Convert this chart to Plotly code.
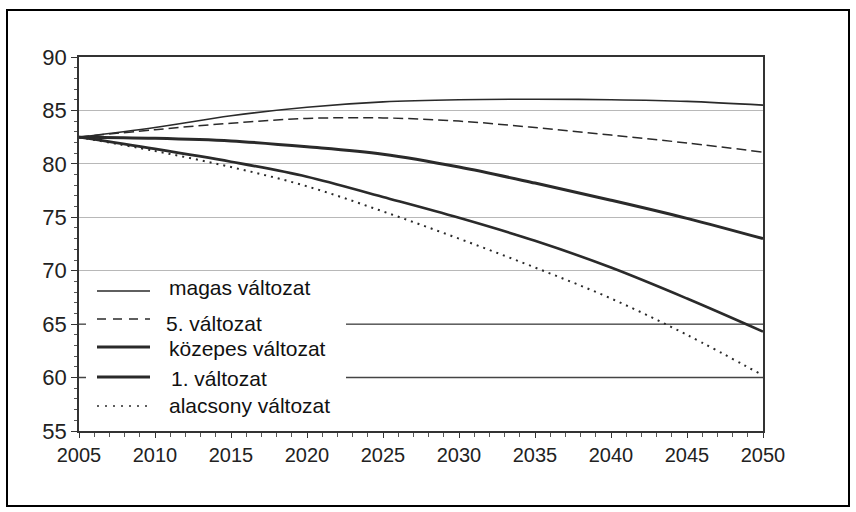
import plotly.graph_objects as go

years = [2005, 2010, 2015, 2020, 2025, 2030, 2035, 2040, 2045, 2050]
magas = [82.5, 83.4, 84.5, 85.3, 85.8, 86.0, 86.05, 86.0, 85.85, 85.5]
valt5 = [82.5, 83.2, 83.8, 84.25, 84.3, 84.0, 83.4, 82.7, 81.95, 81.1]
kozepes = [82.5, 82.4, 82.15, 81.6, 80.9, 79.7, 78.2, 76.6, 74.9, 73.0]
valt1 = [82.5, 81.4, 80.2, 78.8, 76.9, 74.95, 72.8, 70.3, 67.4, 64.3]
alacsony = [82.5, 81.2, 79.7, 77.9, 75.55, 73.0, 70.3, 67.4, 64.0, 60.2]

names = ["magas változat", "5. változat", "közepes változat", "1. változat", "alacsony változat"]
xticks = [2005, 2010, 2015, 2020, 2025, 2030, 2035, 2040, 2045, 2050]
yticks = [55, 60, 65, 70, 75, 80, 85, 90]

W, H = 856, 512
L, R, T, B = 79, 93, 57, 81
PW, PH = W - L - R, H - T - B


def px(x):
    return (x - L) / PW


def py(y):
    return (H - B - y) / PH


INK = "#2a2a2a"
FONT = "Liberation Sans, Arial, sans-serif"

styles = [
    dict(width=1.6, dash="solid"),
    dict(width=1.5, dash="10px,5px"),
    dict(width=3.0, dash="solid"),
    dict(width=2.6, dash="solid"),
    dict(width=2.0, dash="2px,5px"),
]
series = [magas, valt5, kozepes, valt1, alacsony]

fig = go.Figure()
for name, vals, st in zip(names, series, styles):
    fig.add_trace(go.Scatter(
        x=years, y=vals, mode="lines", name=name, showlegend=False,
        line=dict(color=INK, width=st["width"], dash=st["dash"], shape="spline", smoothing=1.0),
    ))

shapes = []
# darker partial gridlines at 65 and 60
for yv in (65, 60):
    shapes.append(dict(type="line", xref="x", yref="y", x0=2005, x1=2050, y0=yv, y1=yv,
                       line=dict(color="#444", width=1.4), layer="between"))
# white legend box
shapes.append(dict(type="rect", xref="paper", yref="paper",
                   x0=px(86), x1=px(346), y0=py(426), y1=py(277),
                   fillcolor="white", line=dict(width=0), layer="above"))
# legend samples
leg_line_y = [291, 319, 347, 377, 406]
leg_text = [(167, 287), (164, 323), (167, 348), (169, 378), (167, 405)]
leg_dash = ["solid", "9px,7px", "solid", "solid", "2px,6px"]
leg_w = [1.6, 1.3, 3.2, 3.2, 1.6]
for ly, d, w in zip(leg_line_y, leg_dash, leg_w):
    shapes.append(dict(type="line", xref="paper", yref="paper",
                       x0=px(97), x1=px(150), y0=py(ly), y1=py(ly),
                       line=dict(color=INK, width=w, dash=d), layer="above"))
# outer frame
shapes.append(dict(type="rect", xref="paper", yref="paper",
                   x0=px(7), x1=px(849), y0=py(506), y1=py(10),
                   line=dict(color="black", width=2), layer="above"))

annotations = []
for name, (tx, ty) in zip(names, leg_text):
    annotations.append(dict(text=name, xref="paper", yref="paper", x=px(tx), y=py(ty),
                            xanchor="left", yanchor="middle", showarrow=False,
                            font=dict(family=FONT, size=21, color="#111")))

fig.update_layout(
    width=W, height=H,
    margin=dict(l=L, r=R, t=T, b=B),
    paper_bgcolor="white", plot_bgcolor="white",
    shapes=shapes, annotations=annotations,
    showlegend=False,
    font=dict(family=FONT, color="#222"),
)
fig.update_xaxes(
    range=[2005, 2050], tickvals=xticks, ticktext=[str(v) for v in xticks],
    tickfont=dict(size=20, family=FONT, color="#222"),
    showgrid=False, zeroline=False,
    showline=True, linecolor="#333", linewidth=1.5, mirror=True,
    ticks="outside", ticklen=5, tickcolor="#333", tickwidth=1,
    minor=dict(dtick=1, ticks="outside", ticklen=4, tickcolor="#555", showgrid=False),
)
fig.update_yaxes(
    range=[55, 90], tickvals=yticks, ticktext=[str(v) for v in yticks],
    tickfont=dict(size=22, family=FONT, color="#222"),
    showgrid=True, gridcolor="#b8b8b8", gridwidth=1, zeroline=False,
    showline=True, linecolor="#333", linewidth=1.5, mirror=True,
    ticks="outside", ticklen=6, tickcolor="#333", tickwidth=1,
    minor=dict(dtick=1, ticks="outside", ticklen=3, tickcolor="#555", showgrid=False),
)

fig.write_html("out.html", config={"displayModeBar": False},
               post_script="document.body.style.margin='0';document.body.style.padding='0';")
